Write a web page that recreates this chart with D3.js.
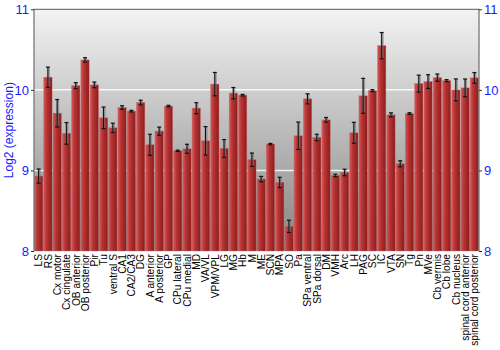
<!DOCTYPE html>
<html><head><meta charset="utf-8">
<script src="https://cdn.jsdelivr.net/npm/d3@7"></script>
<style>body{margin:0;background:#fff}svg{display:block}text{font-family:"Liberation Sans",Arial,sans-serif}</style>
</head><body><svg id="c" width="500" height="350"></svg>
<script>
const categories = ["LS","RS","Cx motor","Cx cingulate","OB anterior","OB posterior","Pir","Tu","ventral S","CA1","CA2/CA3","DG","A anterior","A posterior","GP","CPu lateral","CPu medial","MD","VA/VL","VPM/VPL","LG","MG","Hb","M","ME","SCN","MPA","SO","Pa","SPa ventral","SPa dorsal","DM","VMH","Arc","LH","PAG","SC","IC","VTA","SN","Tg","Pn","MVe","Cb vermis","Cb lobe","Cb nucleus","spinal cord anterior","spinal cord posterior"];
const values = [8.93,10.157,9.71,9.46,10.053,10.372,10.062,9.653,9.529,9.781,9.736,9.843,9.319,9.488,9.798,9.244,9.269,9.773,9.368,10.071,9.273,9.959,9.934,9.133,8.893,9.327,8.851,8.306,9.43,9.889,9.409,9.628,8.938,8.975,9.467,9.926,9.991,10.549,9.69,9.083,9.706,10.078,10.103,10.152,10.115,10.0,10.025,10.149];
const errors = [0.087,0.125,0.17,0.134,0.037,0.027,0.035,0.134,0.058,0.022,0.01,0.029,0.13,0.05,0.01,0.008,0.056,0.068,0.176,0.145,0.11,0.07,0.01,0.083,0.033,0.008,0.064,0.076,0.17,0.062,0.04,0.029,0.015,0.04,0.13,0.217,0.012,0.163,0.025,0.037,0.01,0.105,0.085,0.045,0.012,0.136,0.11,0.066];
const yTicks = [8,9,10,11];
const yTitle = "Log2 (expression)";

const svg = d3.select("#c");
const L=34, R=479, T=9.3, B=251;
const x = d3.scaleBand().domain(categories).range([L,R]).paddingInner(0.1).paddingOuter(0.05);
const y = d3.scaleLinear().domain([8,11]).range([B,T]);

const defs = svg.append("defs");
const bg = defs.append("linearGradient").attr("id","bg").attr("x1",0).attr("y1",0).attr("x2",0).attr("y2",1);
bg.append("stop").attr("offset",0).attr("stop-color","#f3f3f3");
bg.append("stop").attr("offset",1).attr("stop-color","#848484");
const bar = defs.append("linearGradient").attr("id","bar").attr("x1",0).attr("y1",0).attr("x2",1).attr("y2",0);
bar.append("stop").attr("offset",0).attr("stop-color","#d65a5a");
bar.append("stop").attr("offset",0.35).attr("stop-color","#b83434");
bar.append("stop").attr("offset",1).attr("stop-color","#8c1c1c");

svg.append("rect").attr("x",L).attr("y",T).attr("width",R-L).attr("height",B-T).attr("fill","url(#bg)");

svg.append("g").selectAll("line").data([9,10]).join("line")
  .attr("x1",L).attr("x2",R).attr("y1",d=>y(d)).attr("y2",d=>y(d))
  .attr("stroke","#ffffff").attr("stroke-width",1.5).attr("stroke-opacity",0.85);

svg.append("g").selectAll("rect").data(categories).join("rect")
  .attr("x",d=>x(d)).attr("width",x.bandwidth())
  .attr("y",(d,i)=>y(values[i])).attr("height",(d,i)=>B-y(values[i]))
  .attr("fill","url(#bar)").attr("stroke","#c86464").attr("stroke-width",0.6).attr("stroke-opacity",0.6);

const eg = svg.append("g");
categories.forEach((c,i)=>{
  const cx = x(c)+x.bandwidth()/2;
  const y1 = y(values[i]+errors[i]), y2 = y(values[i]-errors[i]);
  eg.append("line").attr("x1",cx+0.5).attr("x2",cx+0.5).attr("y1",y1).attr("y2",y2).attr("stroke","#777").attr("stroke-opacity",0.6).attr("stroke-width",3);
  eg.append("line").attr("x1",cx).attr("x2",cx).attr("y1",y1).attr("y2",y2).attr("stroke","#111").attr("stroke-width",1);
  [y1,y2].forEach(yy=>eg.append("line").attr("x1",cx-2).attr("x2",cx+2).attr("y1",yy).attr("y2",yy).attr("stroke","#111").attr("stroke-width",1.2));
});

svg.append("path").attr("d",`M${L},${B}V${T}H${R}V${B}`).attr("fill","none").attr("stroke","#777").attr("stroke-width",1.3);

const axL = svg.append("g").attr("transform",`translate(${L},0)`).call(d3.axisLeft(y).tickValues(yTicks).tickSize(3).tickPadding(2).tickFormat(d3.format("d")));
const axR = svg.append("g").attr("transform",`translate(${R},0)`).call(d3.axisRight(y).tickValues(yTicks).tickSize(3).tickPadding(2).tickFormat(d3.format("d")));
[axL,axR].forEach(a=>{
  a.select(".domain").remove();
  a.selectAll(".tick line").attr("stroke","#333");
  a.selectAll("text").attr("fill","#1a1aff").style("font-size","13px").style("font-family","'Liberation Sans',Arial,sans-serif");
});

svg.append("text").attr("transform",`translate(13,${(T+B)/2}) rotate(-90)`).attr("text-anchor","middle")
  .attr("fill","#1a1aff").style("font-size","12px").text(yTitle);

svg.append("g").selectAll("text").data(categories).join("text")
  .attr("transform",d=>`translate(${x(d)+x.bandwidth()/2+3.8},${B+3}) rotate(-90)`)
  .attr("text-anchor","end").style("font-size","10.2px").attr("fill","#000").text(d=>d);
</script></body></html>
